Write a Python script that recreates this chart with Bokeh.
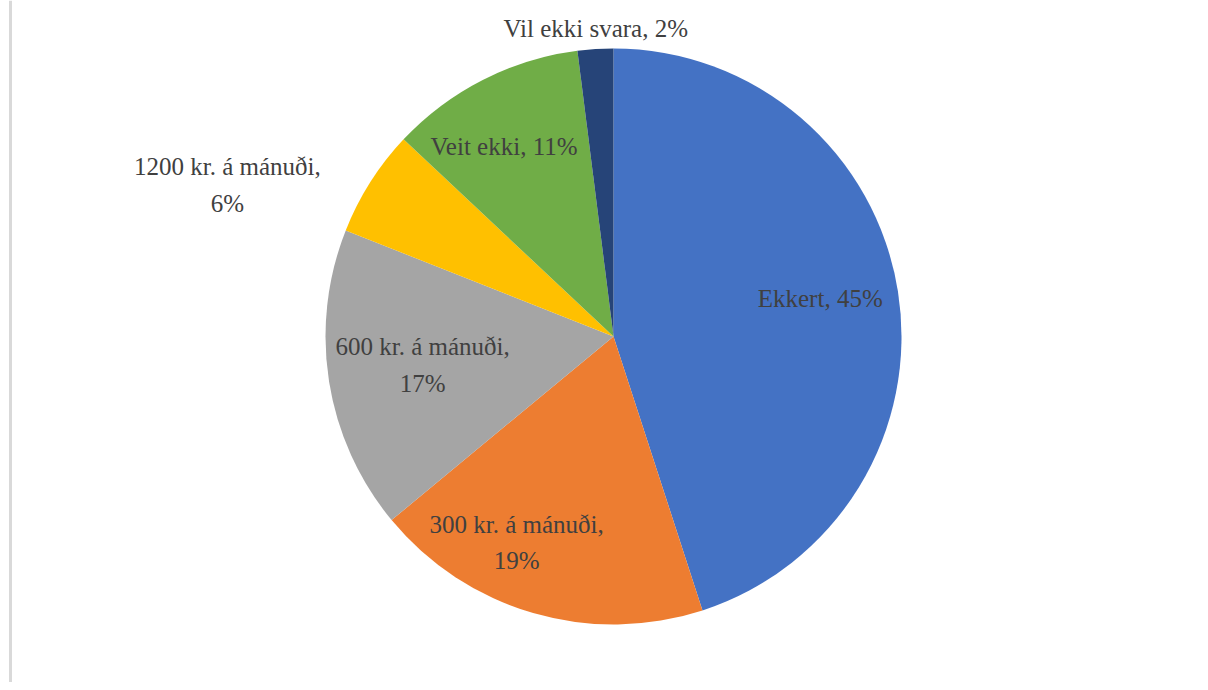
import math
from bokeh.plotting import figure
from bokeh.models import ColumnDataSource, Range1d, Span
from bokeh.core.properties import value
from bokeh.embed import file_html
from bokeh.resources import INLINE

# ---- data ----
categories = ["Ekkert", "300 kr. á mánuði", "600 kr. á mánuði",
              "1200 kr. á mánuði", "Veit ekki", "Vil ekki svara"]
percents = [45, 19, 17, 6, 11, 2]
colors = ["#4472C4", "#ED7D31", "#A5A5A5", "#FFC000", "#70AD47", "#264478"]
wrap_label = [False, True, True, True, False, False]

# ---- layout (label placement relative to slice middle) ----
label_radius_factor = [0.73, 0.79, 0.67, 1.44, 0.76, 1.07]
label_angle_nudge = [-1.5, 9.0, 0.5, -11.0, -3.0, 0.3]

W, H = 1200, 682
cx, cy, R = 613, 354, 288

total = float(sum(percents))
starts, ends, lx, ly, texts = [], [], [], [], []
cum = 0.0
for i, v in enumerate(percents):
    a0 = cum / total
    cum += v
    a1 = cum / total
    starts.append(math.radians(90 - a0 * 360))
    ends.append(math.radians(90 - a1 * 360))
    mid = (a0 + a1) / 2 * 360 + label_angle_nudge[i]  # clockwise from top
    r = R * label_radius_factor[i]
    lx.append(cx + r * math.sin(math.radians(mid)))
    ly.append(cy + r * math.cos(math.radians(mid)))
    sep = ",\n" if wrap_label[i] else ", "
    texts.append(f"{categories[i]}{sep}{v}%")

src = ColumnDataSource(dict(start=starts, end=ends, color=colors,
                            lx=lx, ly=ly, text=texts))

p = figure(width=W, height=H, output_backend="svg", toolbar_location=None,
           x_range=Range1d(0, W), y_range=Range1d(690 - H, 690),
           min_border=0)
p.axis.visible = False
p.grid.visible = False
p.outline_line_color = None
p.background_fill_color = "white"

p.wedge(x=cx, y=cy, radius=R, start_angle="start", end_angle="end",
        direction="clock", fill_color="color", line_color=None, source=src)

p.text(x="lx", y="ly", text="text", source=src,
       text_font=value("Liberation Serif"), text_font_size="25px",
       text_color="#404040", text_align="center", text_baseline="middle",
       text_line_height=1.35)

p.add_layout(Span(location=10, dimension="height", line_color="#D9D9D9",
                  line_width=3))

open("out.html", "w").write(file_html(p, INLINE))
